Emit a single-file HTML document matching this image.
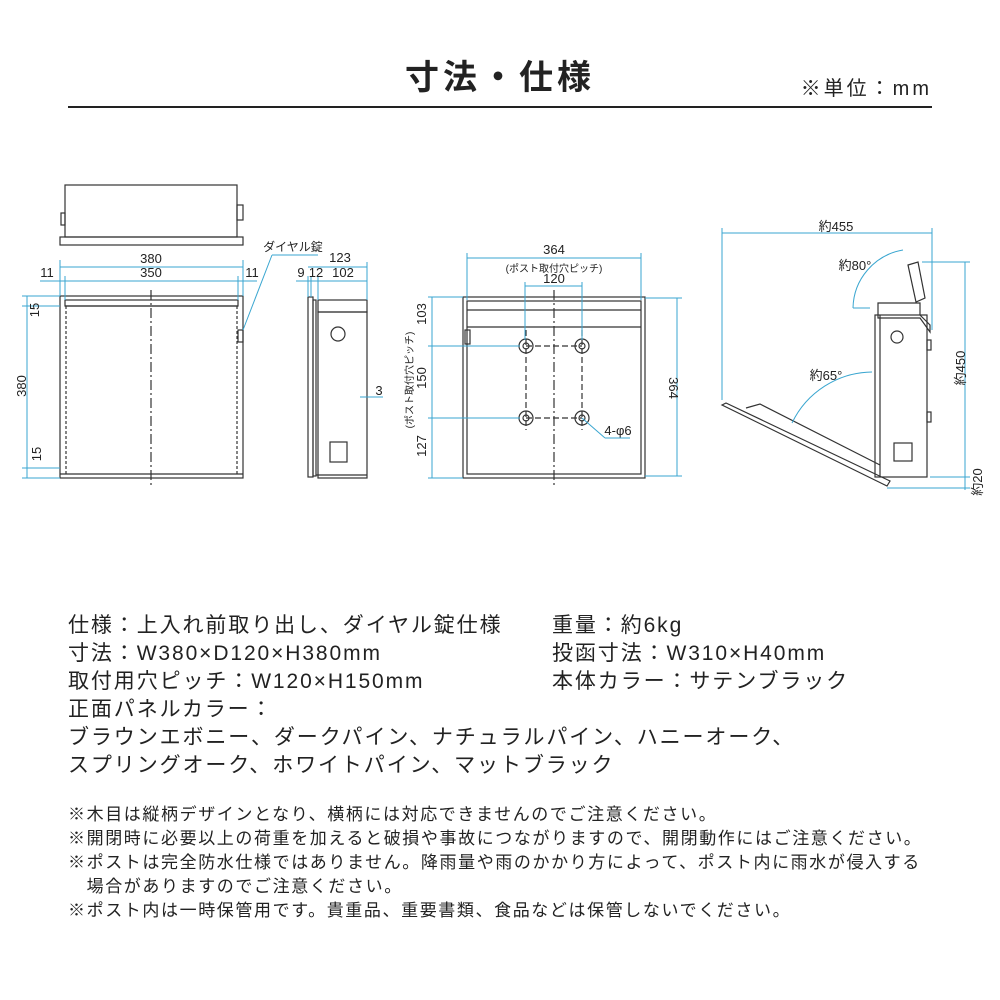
<!DOCTYPE html>
<html><head><meta charset="utf-8"><style>
body{margin:0;width:1000px;height:1000px;background:#fff;font-family:"Liberation Sans","Noto Sans CJK JP",sans-serif;color:#222;position:relative;overflow:hidden}
.t{position:absolute;white-space:nowrap}
</style></head><body>
<div class="t" style="left:0;width:1000px;text-align:center;top:50px;font-size:34px;font-weight:bold;letter-spacing:4px">寸法・仕様</div>
<div class="t" style="right:68px;top:72px;font-size:20px;letter-spacing:3px">※単位：mm</div>
<div style="position:absolute;left:68px;top:106px;width:864px;height:2px;background:#222"></div>
<svg width="1000" height="1000" style="position:absolute;left:0;top:0" font-family="Liberation Sans, Noto Sans CJK JP, sans-serif">
<g fill="none" stroke="#333" stroke-width="1.2">
<rect x="65" y="185" width="172" height="52"/>
<rect x="60" y="237" width="183" height="8"/>
<rect x="61" y="213" width="4" height="12"/><rect x="237" y="205" width="6" height="15"/>
<rect x="60" y="296" width="183" height="182"/>
<line x1="65" y1="306" x2="238" y2="306"/><rect x="65" y="300" width="173" height="6"/>
<line x1="66" y1="306" x2="66" y2="474" stroke-dasharray="3 2"/><line x1="237" y1="306" x2="237" y2="474" stroke-dasharray="3 2"/>
<line x1="60" y1="474" x2="243" y2="474"/>
<line x1="151" y1="290" x2="151" y2="485" stroke-dasharray="10 3 2 3"/>
<rect x="238" y="330" width="5" height="12"/>
<rect x="308" y="297" width="5" height="180"/><rect x="313" y="300" width="3" height="176"/>
<rect x="318" y="300" width="49" height="12"/>
<rect x="318" y="312" width="49" height="166"/>
<circle cx="338" cy="334" r="7"/><rect x="330" y="442" width="17" height="20"/>
<line x1="316" y1="475" x2="367" y2="475"/>
<rect x="463" y="297" width="182" height="181"/>
<rect x="467" y="301" width="174" height="173"/>
<line x1="467" y1="310" x2="641" y2="310"/><line x1="467" y1="327" x2="641" y2="327"/>
<rect x="465" y="330" width="5" height="14"/>
<line x1="554" y1="290" x2="554" y2="488" stroke-dasharray="10 3 2 3"/>
<line x1="526" y1="346" x2="582" y2="346" stroke-dasharray="6 3"/><line x1="526" y1="418" x2="582" y2="418" stroke-dasharray="6 3"/>
<line x1="526" y1="330" x2="526" y2="430" stroke-dasharray="6 3"/><line x1="582" y1="330" x2="582" y2="430" stroke-dasharray="6 3"/>
<circle cx="526" cy="346" r="7"/><circle cx="526" cy="346" r="3"/>
<circle cx="582" cy="346" r="7"/><circle cx="582" cy="346" r="3"/>
<circle cx="526" cy="418" r="7"/><circle cx="526" cy="418" r="3"/>
<circle cx="582" cy="418" r="7"/><circle cx="582" cy="418" r="3"/>
<rect x="875" y="315" width="52" height="162"/><line x1="880" y1="315" x2="880" y2="477"/>
<polygon points="878,303 920,303 920,315 930,325 930,332 920,318 878,318"/>
<polygon points="908,265 918,262 925,298 916,302"/>
<circle cx="897" cy="337" r="6"/><rect x="894" y="443" width="18" height="18"/>
<rect x="927" y="340" width="4" height="10"/><rect x="927" y="412" width="4" height="10"/>
<polygon points="722,405 726,403 890,481 887,486"/>
<polyline points="746,408 760,404 880,465"/>
</g>
<g stroke="#3aa6d0" stroke-width="1" fill="none">
<line x1="60" y1="267" x2="243" y2="267"/><line x1="60" y1="260" x2="60" y2="296"/><line x1="243" y1="260" x2="243" y2="296"/>
<line x1="40" y1="281" x2="257" y2="281"/><line x1="65" y1="276" x2="65" y2="300"/><line x1="238" y1="276" x2="238" y2="300"/>
<line x1="27" y1="296" x2="27" y2="478"/><line x1="22" y1="296" x2="60" y2="296"/><line x1="22" y1="306" x2="60" y2="306"/><line x1="22" y1="468" x2="60" y2="468"/><line x1="22" y1="478" x2="60" y2="478"/>
<line x1="243" y1="330" x2="272" y2="255"/><line x1="272" y1="255" x2="318" y2="255"/>
<line x1="308" y1="267" x2="367" y2="267"/><line x1="367" y1="262" x2="367" y2="300"/>
<line x1="296" y1="281" x2="367" y2="281"/><line x1="308" y1="276" x2="308" y2="297"/><line x1="311" y1="276" x2="311" y2="297"/><line x1="318" y1="276" x2="318" y2="300"/>
<line x1="360" y1="397" x2="383" y2="397"/>
<line x1="467" y1="258" x2="641" y2="258"/><line x1="467" y1="253" x2="467" y2="300"/><line x1="641" y1="253" x2="641" y2="300"/>
<line x1="525" y1="286" x2="582" y2="286"/><line x1="525" y1="282" x2="525" y2="340"/><line x1="582" y1="282" x2="582" y2="340"/>
<line x1="677" y1="298" x2="677" y2="476"/><line x1="645" y1="298" x2="682" y2="298"/><line x1="645" y1="476" x2="682" y2="476"/>
<line x1="432" y1="297" x2="432" y2="478"/><line x1="428" y1="297" x2="463" y2="297"/><line x1="428" y1="346" x2="520" y2="346"/><line x1="428" y1="418" x2="520" y2="418"/><line x1="428" y1="478" x2="463" y2="478"/>
<line x1="582" y1="418" x2="605" y2="438"/><line x1="605" y1="438" x2="630" y2="438"/>
<line x1="722" y1="233" x2="932" y2="233"/><line x1="722" y1="228" x2="722" y2="400"/><line x1="932" y1="228" x2="932" y2="330"/>
<line x1="965" y1="262" x2="965" y2="490"/><line x1="922" y1="262" x2="970" y2="262"/><line x1="930" y1="477" x2="970" y2="477"/><line x1="887" y1="488" x2="970" y2="488"/>
<path d="M903,250 A60,60 0 0 0 853,308"/><line x1="853" y1="308" x2="870" y2="308"/>
<path d="M872,372 A90,90 0 0 0 792,423"/>
</g>
<g font-size="13" fill="#222" text-anchor="middle">
<text x="151" y="263">380</text><text x="151" y="277">350</text><text x="47" y="277">11</text><text x="252" y="277">11</text>
<text x="41" y="316" transform="rotate(-90 37 314)">15</text><text x="26" y="394" transform="rotate(-90 22 390)">380</text><text x="41" y="462" transform="rotate(-90 37 458)">15</text>
<text x="293" y="251" font-size="12">ダイヤル錠</text>
<text x="340" y="262">123</text><text x="301" y="277">9</text><text x="316" y="277">12</text><text x="343" y="277">102</text><text x="379" y="395">3</text>
<text x="554" y="254">364</text><text x="554" y="272" font-size="10">(ポスト取付穴ピッチ)</text><text x="554" y="283">120</text>
<text x="428" y="320" transform="rotate(-90 424 318)">103</text><text x="428" y="384" transform="rotate(-90 424 382)">150</text><text x="428" y="452" transform="rotate(-90 424 450)">127</text>
<text x="413" y="388" font-size="10" transform="rotate(-90 409 384)">(ポスト取付穴ピッチ)</text>
<text x="673" y="392" transform="rotate(90 673 388)">364</text>
<text x="618" y="435">4-φ6</text>
<text x="836" y="231">約455</text><text x="855" y="270">約80°</text><text x="826" y="380">約65°</text>
<text x="961" y="372" transform="rotate(-90 961 368)">約450</text><text x="982" y="490" transform="rotate(-90 978 486)">約20</text>
</g>
</svg>
<div class="t" style="left:68px;top:612px;font-size:21px;line-height:28px;letter-spacing:1.9px">仕様：上入れ前取り出し、ダイヤル錠仕様<br>寸法：W380×D120×H380mm<br>取付用穴ピッチ：W120×H150mm<br>正面パネルカラー：<br>ブラウンエボニー、ダークパイン、ナチュラルパイン、ハニーオーク、<br>スプリングオーク、ホワイトパイン、マットブラック</div>
<div class="t" style="left:552px;top:612px;font-size:21px;line-height:28px;letter-spacing:1.9px">重量：約6kg<br>投函寸法：W310×H40mm<br>本体カラー：サテンブラック</div>
<div class="t" style="left:68px;top:803px;font-size:17px;line-height:24px;letter-spacing:1.6px">※木目は縦柄デザインとなり、横柄には対応できませんのでご注意ください。<br>※開閉時に必要以上の荷重を加えると破損や事故につながりますので、開閉動作にはご注意ください。<br>※ポストは完全防水仕様ではありません。降雨量や雨のかかり方によって、ポスト内に雨水が侵入する<br>&#12288;場合がありますのでご注意ください。<br>※ポスト内は一時保管用です。貴重品、重要書類、食品などは保管しないでください。</div>
</body></html>
